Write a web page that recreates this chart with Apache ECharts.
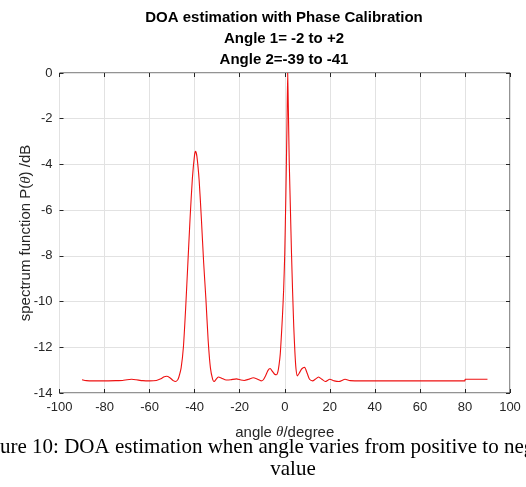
<!DOCTYPE html>
<html style="height: 100%;width:100%">
	<head>
		<meta charset="utf-8">
	</head>
	<body style="height: 100%; width:100%; margin:0; background:#fff">
		<div id="chart-panel" style="height: 487px;width: 526px"></div>
		<script type="text/javascript" src="https://cdn.jsdelivr.net/npm/echarts@6/dist/echarts.min.js"></script>
		<script type="text/javascript">
			var dom = document.getElementById("chart-panel");
			var myChart = echarts.init(dom);

			// angle in degrees
			let angles = [-90, -88, -85, -80, -75, -72, -70, -68, -66, -63, -60, -57, -55, -53.5, -52.5, -51, -49.5, -48.5, -47.5, -47,
				-46, -45, -44, -43, -42, -41, -40, -39.6, -39, -38, -37, -36, -35, -34, -33, -32, -31.3, -30.5, -29.5, -28,
				-26, -24, -21.5, -19.5, -18, -16, -14, -12, -10.5, -9.5, -8.5, -7.5, -6.5, -5.5, -4.5, -3.7, -3, -2.5, -2, -1.5,
				-1, -0.5, 0, 0.5, 1, 1.3, 1.6, 2, 2.5, 3, 3.5, 4, 4.5, 5, 5.6, 6.5, 7.5, 8.8, 10, 11,
				12.4, 13.5, 15, 16.5, 18, 20, 22, 24, 26.8, 29, 35, 45, 55, 65, 75, 80, 80.1, 85, 90
			];
			// spectrum P(theta) in dB
			let spectrum = [-13.42, -13.46, -13.47, -13.47, -13.46, -13.45, -13.42, -13.40, -13.42, -13.46, -13.47, -13.45, -13.38, -13.29, -13.27, -13.33, -13.46, -13.5, -13.42, -13.3,
				-12.9, -12.0, -10.3, -8.3, -6.3, -4.6, -3.55, -3.43, -3.65, -4.7, -6.4, -8.3, -9.9, -11.7, -12.9, -13.4, -13.5, -13.4, -13.3, -13.35,
				-13.43, -13.42, -13.38, -13.43, -13.45, -13.4, -13.33, -13.4, -13.47, -13.42, -13.25, -13.02, -12.93, -13.05, -13.18, -13.2, -13.05, -12.75, -12.3, -11.5,
				-10.6, -9.5, -7.9, -5.3, -2.2, 0, -1.6, -3.9, -5.9, -7.9, -9.6, -11.1, -12.2, -12.95, -13.25, -13.12, -12.95, -12.88, -13.15, -13.4,
				-13.47, -13.4, -13.3, -13.4, -13.5, -13.4, -13.47, -13.5, -13.4, -13.46, -13.47, -13.47, -13.47, -13.47, -13.47, -13.47, -13.4, -13.4, -13.4
			];
			let xTicks = [-100, -80, -60, -40, -20, 0, 20, 40, 60, 80, 100];
			let yTicks = [-14, -12, -10, -8, -6, -4, -2, 0];
			let titleLines = ['DOA estimation with Phase Calibration', 'Angle 1= -2 to +2', 'Angle 2=-39 to -41'];

			let seriesData = angles.map(function(a, i) {
				return [a, spectrum[i]];
			});

			let axisCol = '#262626';
			let font = 'Liberation Sans, Arial, sans-serif';
			let serif = '"Liberation Serif", "Times New Roman", serif';

			let graphics = titleLines.map(function(t, i) {
				return {
					type: 'text',
					x: 284,
					y: 18 + i * 21,
					style: {
						text: t,
						textAlign: 'center',
						textVerticalAlign: 'middle',
						font: 'bold 15px ' + font,
						fill: '#000',
					},
				};
			});
			// figure caption, cut off at both page edges like the scan
			graphics.push({
				type: 'text',
				x: -28,
				y: 447,
				style: {
					text: 'Figure 10: DOA estimation when angle varies from positive to negative',
					textVerticalAlign: 'middle',
					font: '21px ' + serif,
					fill: '#000',
				},
			}, {
				type: 'text',
				x: 293,
				y: 469,
				style: {
					text: 'value',
					textAlign: 'center',
					textVerticalAlign: 'middle',
					font: '21px ' + serif,
					fill: '#000',
				},
			});

			function tickAxis(extra) {
				return Object.assign({
					type: 'value',
					axisLine: { show: false, onZero: false },
					axisTick: { inside: true, length: 4, lineStyle: { color: axisCol } },
				}, extra);
			}

			var option = {
				backgroundColor: '#fff',
				animation: false,
				grid: {
					left: 59.5,
					right: 16,
					top: 73,
					bottom: 94,
					show: true,
					borderColor: axisCol,
					borderWidth: 1,
				},
				graphic: graphics,
				xAxis: [tickAxis({
						min: xTicks[0],
						max: xTicks[xTicks.length - 1],
						interval: 20,
						name: '{a|angle }{b|θ}{a|/degree}',
						nameLocation: 'middle',
						nameGap: 32,
						nameMoveOverlap: false,
						nameTextStyle: {
							rich: {
								a: { fontFamily: font, fontSize: 15, color: axisCol },
								b: { fontFamily: serif, fontStyle: 'italic', fontSize: 15, color: axisCol },
							},
						},
						axisLabel: { margin: 8, fontFamily: font, fontSize: 13, color: axisCol },
						splitLine: { show: true, lineStyle: { color: '#e2e2e2' } },
					}),
					tickAxis({
						position: 'top',
						min: xTicks[0],
						max: xTicks[xTicks.length - 1],
						interval: 20,
						axisLabel: { show: false },
						splitLine: { show: false },
					}),
				],
				yAxis: [tickAxis({
						min: yTicks[0],
						max: yTicks[yTicks.length - 1],
						interval: 2,
						name: '{a|spectrum function P(}{b|θ}{a|) /dB}',
						nameLocation: 'middle',
						nameGap: 26,
						nameMoveOverlap: false,
						nameTextStyle: {
							rich: {
								a: { fontFamily: font, fontSize: 15, color: axisCol },
								b: { fontFamily: serif, fontStyle: 'italic', fontSize: 15, color: axisCol },
							},
						},
						axisLabel: { margin: 7, fontFamily: font, fontSize: 13, color: axisCol },
						splitLine: { show: true, lineStyle: { color: '#e2e2e2' } },
					}),
					tickAxis({
						position: 'right',
						min: yTicks[0],
						max: yTicks[yTicks.length - 1],
						interval: 2,
						axisLabel: { show: false },
						splitLine: { show: false },
					}),
				],
				series: [{
					type: 'line',
					data: seriesData,
					showSymbol: false,
					smooth: 0.2,
					clip: true,
					lineStyle: { color: '#ee1111', width: 1.1 },
					z: 5,
				}],
			};
			myChart.setOption(option);
		</script>
	</body>
</html>
